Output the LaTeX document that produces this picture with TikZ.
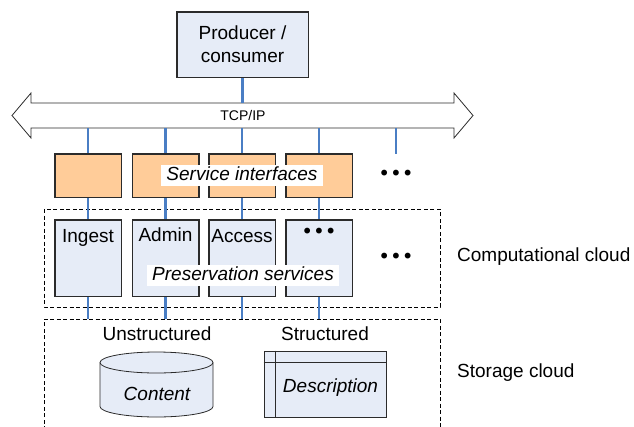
\documentclass[tikz,border=0pt]{standalone}
\usepackage{fontspec}
\setmainfont{Liberation Sans}
\newfontfamily\dotfont{DejaVu Sans}
\definecolor{bluefill}{HTML}{E6ECF7}
\definecolor{orangefill}{HTML}{FFCC99}
\definecolor{linkblue}{HTML}{4A7EC4}
\definecolor{edge}{HTML}{2B2B2B}
\begin{document}
\begin{tikzpicture}[x=1pt,y=-1pt,
  font=\fontsize{19}{23}\selectfont,
  box/.style={draw=edge, line width=0.8pt},
  svc/.style={box, fill=orangefill, minimum width=66pt, minimum height=43pt, inner sep=0pt},
  prs/.style={box, fill=bluefill, minimum width=66pt, minimum height=76pt, inner sep=0pt},
  link/.style={draw=linkblue, line width=2.6pt},
  cloud/.style={draw=black, line width=0.8pt, dash pattern=on 4pt off 2.5pt},
  tag/.style={fill=white, inner xsep=5.5pt, inner ysep=1.5pt, text height=14pt, text depth=4pt, font=\fontsize{19}{23}\selectfont\itshape},
  more/.style={font=\dotfont\fontsize{20}{23}\selectfont, inner sep=0pt}]
\useasboundingbox (0,0) rectangle (634,426);

% producer / consumer
\node[box, fill=bluefill, minimum width=131pt, minimum height=65pt, align=center, inner sep=0pt] (prod) at (242.5,44.5) {Producer /\\consumer};

% TCP/IP bus as a double-headed block arrow
\draw[box, fill=white] (12,115.5) -- (31,93) -- (31,103) -- (454,103) -- (454,93) -- (473,115.5)
  -- (454,138) -- (454,128) -- (31,128) -- (31,138) -- cycle;
\coordinate (bustop) at (0,103);
\coordinate (busbot) at (0,128);
\coordinate (stortop) at (0,319);
\node[font=\fontsize{14}{16}\selectfont] (tcp) at (243,115.5) {TCP/IP};

% computational cloud frame
\draw[cloud] (44,209) rectangle (440,307);
% storage cloud frame, open at the bottom
\draw[cloud] (44,430) -- (44,319) -- (440,319) -- (440,430);

% service interfaces and preservation services
\foreach \i/\x in {1/88, 2/165.5, 3/242, 4/319} {
  \node[svc] (si\i) at (\x,175.5) {};
  \node[prs] (ps\i) at (\x,258) {};
}
\node[more] (simore) at (396,175) {•••};
\node[more] (psmore) at (396,258) {•••};

% connectors
\draw[link] (prod.south) -- (prod.south |- bustop);
\foreach \i in {1,2,3,4} {
  \draw[link] (si\i.north |- busbot) -- (si\i.north);
  \draw[link] (si\i.south) -- (ps\i.north);
  \draw[link] (ps\i.south) -- (ps\i.south |- stortop);
}
\draw[link] (simore |- busbot) -- (simore |- si1.north);

% redraw box outlines over the connector ends
\draw[box] (prod.north west) rectangle (prod.south east);
\foreach \i in {1,2,3,4} {
  \draw[box] (si\i.north west) rectangle (si\i.south east);
  \draw[box] (ps\i.north west) rectangle (ps\i.south east);
}

% service names
\node[anchor=base] (n1) at (88,242.5) {Ingest};
\node[anchor=base] (n2) at (165.5,241) {Admin};
\node[anchor=base] (n3) at (242,242) {Access};
\node[more] (n4) at (319,233) {•••};

\node[tag] (sitag) at (242,175.5) {Service interfaces};
\node[tag] (pstag) at (243,275) {Preservation services};

% storage
\node (unstr) at (157,334) {Unstructured};
\node (str) at (325,334) {Structured};

\fill[bluefill] (100,362.5) -- (100,406.5) arc[start angle=180, end angle=0, x radius=56.5, y radius=10.5]
  -- (213,362.5) arc[start angle=360, end angle=180, x radius=56.5, y radius=10.5] -- cycle;
\draw[box] (100,362.5) -- (100,406.5) arc[start angle=180, end angle=0, x radius=56.5, y radius=10.5] -- (213,362.5);
\draw[box] (156.5,362.5) ellipse[x radius=56.5, y radius=10.5];
\node[font=\fontsize{19}{23}\selectfont\itshape] (content) at (157,394) {Content};

\node[box, fill=bluefill, minimum width=122pt, minimum height=66pt, inner sep=0pt] (tbl) at (325,384) {};
\coordinate (trow) at (0,362);
\coordinate (tcol) at (275,0);
\draw[box] (tbl.west |- trow) -- (tbl.east |- trow);
\draw[box] (tbl.north -| tcol) -- (tbl.south -| tcol);
\node[font=\fontsize{19}{23}\selectfont\itshape] (desc) at (330.5,388) {Description};

% cloud names
\node[anchor=west, inner sep=0pt] (compname) at (457,257) {Computational cloud};
\node[anchor=west, inner sep=0pt] (storname) at (457,373) {Storage cloud};
\end{tikzpicture}
\end{document}
